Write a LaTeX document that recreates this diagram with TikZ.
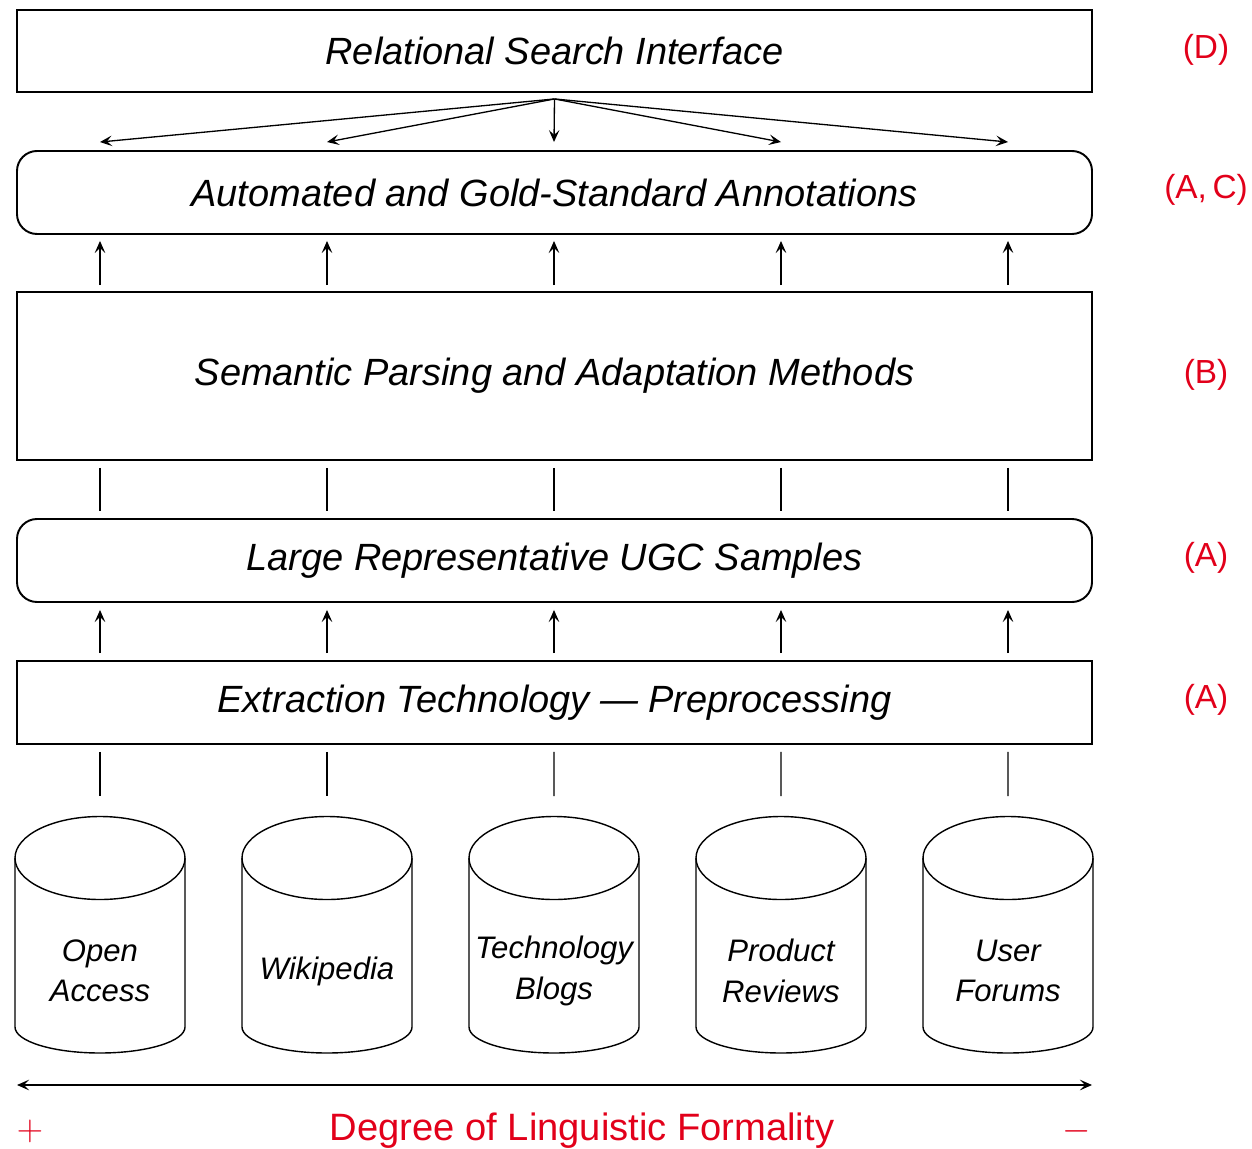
\documentclass[tikz,border=0pt]{standalone}
\usepackage{fontspec}
\setmainfont{Liberation Sans}
\usetikzlibrary{arrows.meta, calc}
\definecolor{tierred}{HTML}{E2001A}
\newcommand{\layerbox}[4][]{%
  \node[draw, line width=1.1pt, minimum width=21.5cm, minimum height=1.66cm,
        inner sep=0pt, font=\fontsize{21.6}{26}\selectfont\itshape, #1]
        (#2) at (11.09,#3) {#4};}
\newcommand{\tierlabel}[3]{%
  \node[text=tierred, font=\fontsize{19}{23}\selectfont] (#1) at (24.12,#2) {#3};}
\newcommand{\datastore}[3]{%
  \draw[line width=0.8pt] (#2,-17.16) ellipse [x radius=1.7, y radius=0.83];
  \draw[line width=0.8pt] (#2-1.7,-17.16) -- (#2-1.7,-20.54)
    arc [start angle=180, end angle=360, x radius=1.7, y radius=0.52]
    -- (#2+1.7,-17.16);
  \node[align=center, font=\fontsize{17.7}{23}\selectfont\itshape] (#1) at (#2,-19.42) {#3};
  \coordinate (#1-top) at (#2,-16.34);}

\begin{document}
\begin{tikzpicture}[
    tip/.style={-{Stealth[length=2.4mm, width=2.1mm, inset=1mm]}, line width=0.75pt},
    link/.style={line width=0.75pt}]
  \useasboundingbox (0,0) rectangle (25.04,-22.96);
  % layers
  \layerbox[minimum height=1.64cm]{iface}{-1.02}{Relational Search Interface}
  \layerbox[rounded corners=0.4cm]{gold}{-3.85}{Automated and Gold-Standard Annotations}
  \layerbox[minimum height=3.36cm]{parse}{-7.52}{Semantic Parsing and Adaptation Methods}
  \layerbox[rounded corners=0.4cm]{ugc}{-11.21}{Large Representative UGC Samples}
  \layerbox{extract}{-14.05}{Extraction Technology --- Preprocessing}
  \tierlabel{lD}{-1.0}{(D)}
  \tierlabel{lAC}{-3.8}{(A,\,C)}
  \tierlabel{lB}{-7.5}{(B)}
  \tierlabel{lA1}{-11.16}{(A)}
  \tierlabel{lA2}{-14.0}{(A)}
  % sources
  \datastore{open}{2.0}{Open\\Access}
  \datastore{wiki}{6.54}{Wikipedia}
  \datastore{blogs}{11.08}{Technology\\Blogs}
  \datastore{reviews}{15.62}{Product\\Reviews}
  \datastore{forums}{20.16}{User\\Forums}
  % columns
  \coordinate (fan) at ([yshift=-0.12cm]iface.south);
  \foreach \k/\s in {0/open, 1/wiki, 2/blogs, 3/reviews, 4/forums} {
    \coordinate (col\k) at ({2.0+4.54*\k},0);
    \coordinate (hit\k) at ($(col\k |- gold.north)+(0,0.16)$);
    \draw[tip] (fan) -- (hit\k);
    \draw[tip, shorten <=0.12cm, shorten >=0.12cm] (col\k |- parse.north) -- (col\k |- gold.south);
    \draw[link, shorten <=0.14cm, shorten >=0.14cm] (col\k |- parse.south) -- (col\k |- ugc.north);
    \draw[tip, shorten <=0.14cm, shorten >=0.14cm] (col\k |- extract.north) -- (col\k |- ugc.south);
    \draw[link, shorten <=0.14cm, shorten >=0.42cm] (col\k |- extract.south) -- (\s-top);
  }
  % formality axis
  \coordinate (most) at (0.34,-21.7);
  \coordinate (least) at (21.84,-21.7);
  \draw[{Stealth[length=2.4mm, width=2.1mm, inset=1mm]}-{Stealth[length=2.4mm, width=2.1mm, inset=1mm]},
        line width=1.2pt] (most) -- (least);
  \node[text=tierred, font=\fontsize{21.7}{26}\selectfont] (axis) at (11.64,-22.62) {Degree of Linguistic Formality};
  \node[text=tierred, font=\fontsize{21.7}{26}\selectfont] (plus) at (0.6,-22.62) {$+$};
  \node[text=tierred, font=\fontsize{21.7}{26}\selectfont] (minus) at (21.54,-22.62) {$-$};
\end{tikzpicture}
\end{document}
